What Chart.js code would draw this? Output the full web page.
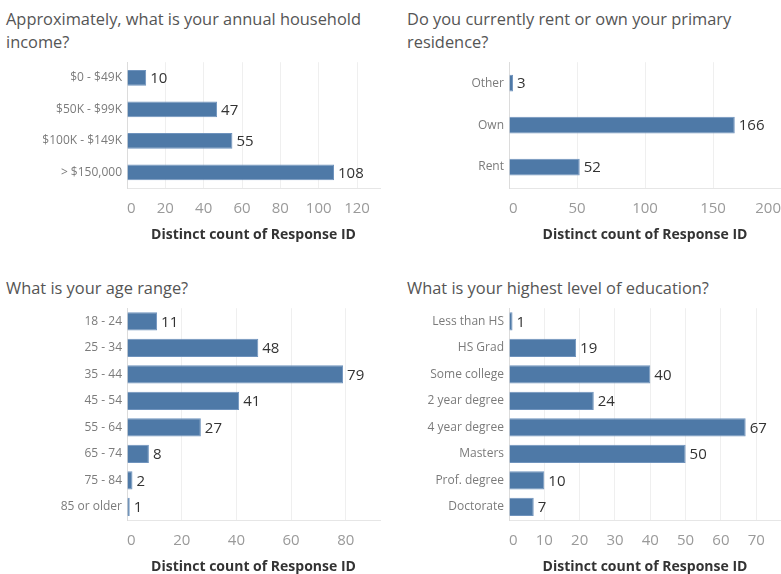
<!DOCTYPE html>
<html>
<head>
<meta charset="utf-8">
<script src="https://cdn.jsdelivr.net/npm/chart.js@4/dist/chart.umd.min.js"></script>
<style>
  html, body { margin: 0; padding: 0; background: #fff; overflow: hidden; }
  body { width: 781px; height: 574px; position: relative; font-family: "Open Sans", sans-serif; }
  .titulo { position: absolute; font-size: 16.4px; line-height: 23px; color: #555; }
  .quadro { position: absolute; }
</style>
</head>
<body>
<div class="titulo" style="left:6px; top:7px; width:382px;">Approximately, what is your annual household income?</div>
<div class="titulo" style="left:407px; top:7px; width:370px;">Do you currently rent or own your primary residence?</div>
<div class="titulo" style="left:6px; top:276px;">What is your age range?</div>
<div class="titulo" style="left:407px; top:276px;">What is your highest level of education?</div>

<div class="quadro" style="left:0; top:50px; width:390px; height:193px;"><canvas id="renda"></canvas></div>
<div class="quadro" style="left:390px; top:50px; width:391px; height:193px;"><canvas id="moradia"></canvas></div>
<div class="quadro" style="left:0; top:296px; width:390px; height:279px;"><canvas id="idade"></canvas></div>
<div class="quadro" style="left:390px; top:296px; width:391px; height:279px;"><canvas id="educacao"></canvas></div>

<script>
// Renda anual
const rendaCategorias = ["$0 - $49K", "$50K - $99K", "$100K - $149K", "> $150,000"];
const rendaValores = [10, 47, 55, 108];
const rendaTicks = [0, 20, 40, 60, 80, 100, 120];

// Aluga ou possui
const moradiaCategorias = ["Other", "Own", "Rent"];
const moradiaValores = [3, 166, 52];
const moradiaTicks = [0, 50, 100, 150, 200];

// Faixa etária
const idadeCategorias = ["18 - 24", "25 - 34", "35 - 44", "45 - 54", "55 - 64", "65 - 74", "75 - 84", "85 or older"];
const idadeValores = [11, 48, 79, 41, 27, 8, 2, 1];
const idadeTicks = [0, 20, 40, 60, 80];

// Escolaridade
const educacaoCategorias = ["Less than HS", "HS Grad", "Some college", "2 year degree", "4 year degree", "Masters", "Prof. degree", "Doctorate"];
const educacaoValores = [1, 19, 40, 24, 67, 50, 10, 7];
const educacaoTicks = [0, 10, 20, 30, 40, 50, 60, 70];

const tituloEixo = "Distinct count of Response ID";
const azul = "#4e79a7";

// escreve o valor ao lado de cada barra
const rotulos = {
  id: "rotulos",
  afterDatasetsDraw(chart) {
    const ctx = chart.ctx;
    const dados = chart.data.datasets[0].data;
    ctx.save();
    ctx.font = "15px 'Open Sans'";
    ctx.fillStyle = "#333";
    ctx.textBaseline = "middle";
    ctx.textAlign = "left";
    chart.getDatasetMeta(0).data.forEach((barra, i) => {
      ctx.fillText(dados[i], barra.x + 4, barra.y + 1);
    });
    ctx.restore();
  }
};

function grafico(id, categorias, valores, ticks, maximo, espessura, larguraY, topo, direita) {
  const ultimo = ticks[ticks.length - 1];
  return new Chart(document.getElementById(id), {
    type: "bar",
    data: {
      labels: categorias,
      datasets: [{
        data: valores,
        backgroundColor: azul,
        borderColor: "#6f93bd",
        borderWidth: 1,
        barPercentage: espessura,
        categoryPercentage: 1
      }]
    },
    options: {
      indexAxis: "y",
      responsive: true,
      maintainAspectRatio: false,
      animation: false,
      events: [],
      layout: { padding: { top: topo, right: direita, left: 0, bottom: 0 } },
      plugins: { legend: { display: false }, tooltip: { enabled: false } },
      scales: {
        x: {
          min: 0,
          max: maximo,
          afterBuildTicks: s => {
            s.ticks = ticks.map(v => ({ value: v }));
            if (maximo !== ultimo) s.ticks.push({ value: maximo });
          },
          afterFit: s => { s.height = 55; },
          grid: {
            color: c => (c.tick && ticks.includes(c.tick.value)) ? "#efefef" : "rgba(0,0,0,0)",
            drawTicks: true,
            tickLength: 12,
            tickColor: "rgba(0,0,0,0)"
          },
          border: { color: "#e6e6e6" },
          ticks: {
            align: "inner",
            padding: 0,
            color: "#9a9a9a",
            font: { family: "Open Sans", size: 15 },
            callback: v => ticks.includes(v) ? v : ""
          },
          title: {
            display: true,
            text: tituloEixo,
            color: "#333",
            font: { family: "Open Sans", size: 14, weight: "bold" },
            padding: { top: 0, bottom: 0 }
          }
        },
        y: {
          afterFit: s => { s.width = larguraY; },
          grid: { display: false, drawTicks: false },
          border: { color: "#dcdcdc" },
          ticks: {
            padding: 5,
            color: "#7b7b7b",
            font: { family: "Open Sans", size: 12 }
          }
        }
      }
    },
    plugins: [rotulos]
  });
}

grafico("renda", rendaCategorias, rendaValores, rendaTicks, 132, 0.5, 127, 10, 10);
grafico("moradia", moradiaCategorias, moradiaValores, moradiaTicks, 200, 0.4, 119, 12, 0);
grafico("idade", idadeCategorias, idadeValores, idadeTicks, 92.5, 0.69, 127, 11, 10);
grafico("educacao", educacaoCategorias, educacaoValores, educacaoTicks, 77, 0.69, 119, 11, 0);
</script>
</body>
</html>
